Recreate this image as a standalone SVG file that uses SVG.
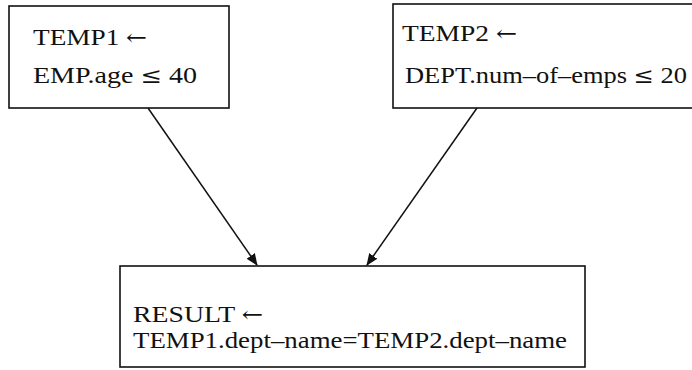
<svg xmlns="http://www.w3.org/2000/svg" width="692" height="370" viewBox="0 0 692 370">
<defs>
<style>
.box{fill:#fff;stroke:#111;stroke-width:1.6}
.t{font-family:"Liberation Serif","Times New Roman",serif;font-size:24px;fill:#111}
.s{font-family:"DejaVu Serif",serif;font-size:22px}
.c{fill:none;stroke:#111;stroke-width:1.5}
</style>
<marker id="ah" viewBox="0 0 12 10" refX="11" refY="5" markerWidth="12" markerHeight="10" markerUnits="userSpaceOnUse" orient="auto">
<path d="M0,0 L12,5 L0,10 Z" fill="#111"/>
</marker>
</defs>
<rect width="692" height="370" fill="#fff"/>
<g id="temp1">
<rect class="box" x="9" y="6" width="220" height="102"/>
<text class="t" x="33" y="45" textLength="114" lengthAdjust="spacingAndGlyphs">TEMP1 <tspan class="s">←</tspan></text>
<text class="t" x="33" y="83" textLength="164" lengthAdjust="spacingAndGlyphs">EMP.age <tspan class="s">≤</tspan>  40</text>
</g>
<g id="temp2">
<rect class="box" x="393" y="4" width="310" height="104"/>
<text class="t" x="402" y="41" textLength="115" lengthAdjust="spacingAndGlyphs">TEMP2 <tspan class="s">←</tspan></text>
<text class="t" x="405" y="83" textLength="282" lengthAdjust="spacingAndGlyphs">DEPT.num–of–emps <tspan class="s">≤</tspan>  20</text>
</g>
<g id="result">
<rect class="box" x="120" y="266" width="465" height="101"/>
<text class="t" x="133" y="322" textLength="130" lengthAdjust="spacingAndGlyphs">RESULT <tspan class="s">←</tspan></text>
<text class="t" x="133" y="348" textLength="434" lengthAdjust="spacingAndGlyphs">TEMP1.dept–name=TEMP2.dept–name</text>
</g>
<g id="connectors">
<line class="c" x1="148" y1="108" x2="257" y2="265" marker-end="url(#ah)"/>
<line class="c" x1="477" y1="108" x2="367" y2="265" marker-end="url(#ah)"/>
</g>
</svg>
